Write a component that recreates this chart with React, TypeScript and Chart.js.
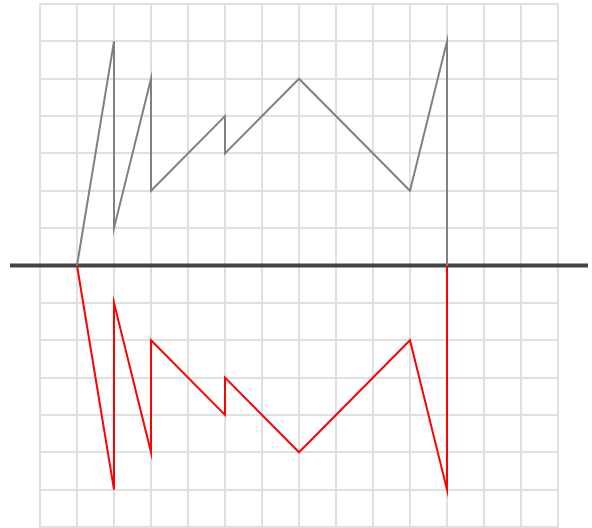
import React, { useEffect, useRef } from "react";
import { Chart, registerables } from "chart.js";

Chart.register(...registerables);

const xValues = [1, 2, 2, 3, 3, 5, 5, 7, 10, 11, 11];
const grayValues = [0, 6, 1, 5, 2, 4, 3, 5, 2, 6, 0];
const redValues = [0, -6, -1, -5, -2, -4, -3, -5, -2, -6, 0];

const axisLinePlugin = {
  id: "axisLine",
  beforeDatasetsDraw(chart: any) {
    const ctx = chart.ctx;
    const y = chart.scales.y.getPixelForValue(0);
    ctx.save();
    ctx.beginPath();
    ctx.strokeStyle = "#444444";
    ctx.lineWidth = 4;
    ctx.moveTo(10, y);
    ctx.lineTo(588, y);
    ctx.stroke();
    ctx.restore();
  },
};

export default function App() {
  const ref = useRef<HTMLCanvasElement | null>(null);
  useEffect(() => {
    if (!ref.current) return;
    const chart = new Chart(ref.current, {
      type: "line",
      data: {
        datasets: [
          {
            label: "gray",
            data: xValues.map((x, i) => ({ x, y: grayValues[i] })),
            borderColor: "#808080",
            borderWidth: 2,
            pointRadius: 0,
            fill: false,
            tension: 0,
          },
          {
            label: "red",
            data: xValues.map((x, i) => ({ x, y: redValues[i] })),
            borderColor: "#ff0000",
            borderWidth: 2,
            pointRadius: 0,
            fill: false,
            tension: 0,
          },
        ],
      },
      options: {
        animation: false,
        responsive: true,
        maintainAspectRatio: false,
        layout: { padding: { left: 40, right: 34, top: 4, bottom: 1 } },
        plugins: { legend: { display: false }, tooltip: { enabled: false } },
        scales: {
          x: {
            type: "linear",
            min: 0,
            max: 14,
            ticks: { display: false, stepSize: 1 },
            grid: { drawTicks: false, color: "#e0e0e0", lineWidth: 2 },
            border: { color: "#e0e0e0", width: 2 },
          },
          y: {
            type: "linear",
            min: -7,
            max: 7,
            ticks: { display: false, stepSize: 1 },
            grid: { drawTicks: false, color: "#e0e0e0", lineWidth: 2 },
            border: { color: "#e0e0e0", width: 2 },
          },
        },
      },
      plugins: [axisLinePlugin],
    });
    return () => chart.destroy();
  }, []);
  return (
    <div style={{ position: "absolute", left: 0, top: 0, width: 592, height: 528 }}>
      <canvas ref={ref} />
    </div>
  );
}
